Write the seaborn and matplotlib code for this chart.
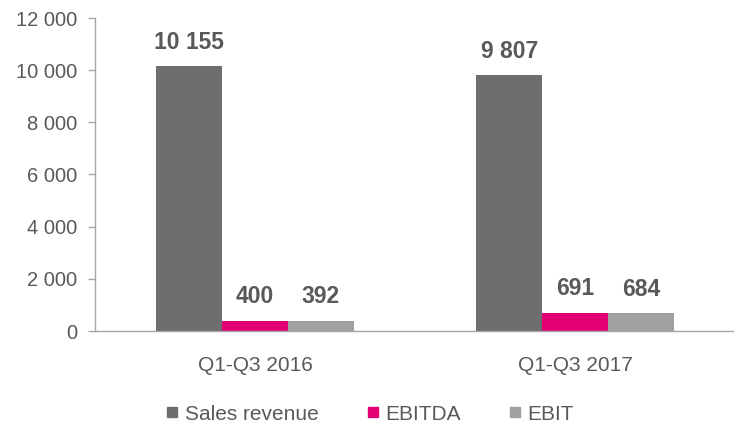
import matplotlib
matplotlib.use("Agg")
import matplotlib.pyplot as plt
from matplotlib.ticker import FuncFormatter, MultipleLocator
from matplotlib.lines import Line2D
import seaborn as sns
import pandas as pd

periods = ["Q1-Q3 2016", "Q1-Q3 2017"]
metrics = ["Sales revenue", "EBITDA", "EBIT"]
sales_revenue = [10155, 9807]
ebitda = [400, 691]
ebit = [392, 684]

colors = ["#6d6e70", "#e20074", "#a0a0a0"]
text_grey = "#595959"
axis_grey = "#a6a6a6"

df = pd.DataFrame({
    "period": periods * 3,
    "metric": [m for m in metrics for _ in periods],
    "value": sales_revenue + ebitda + ebit,
})

sns.set_theme(style="white")
plt.rcParams["font.family"] = ["Liberation Sans", "DejaVu Sans"]

fig = plt.figure(figsize=(7.34, 4.23), dpi=100)
ax = fig.add_axes([95 / 734, 1 - 331 / 423, 640 / 734, 313 / 423])

sns.barplot(data=df, x="period", y="value", hue="metric", order=periods,
            hue_order=metrics, palette=colors, width=0.617, saturation=1,
            legend=False, ax=ax)

for cont in ax.containers:
    for bar in cont:
        bar.set_edgecolor("none")
        v = bar.get_height()
        ax.annotate(f"{v:,.0f}".replace(",", " "),
                    (bar.get_x() + bar.get_width() / 2, v),
                    xytext=(0, 9), textcoords="offset points",
                    ha="center", va="bottom", fontsize=16.5,
                    fontweight="bold", color=text_grey)

ax.set_ylim(0, 12000)
ax.set_xlim(-0.5, 1.5)
ax.yaxis.set_major_locator(MultipleLocator(2000))
ax.yaxis.set_major_formatter(FuncFormatter(lambda v, p: f"{v:,.0f}".replace(",", " ")))
ax.set_xlabel("")
ax.set_ylabel("")

for s in ["top", "right"]:
    ax.spines[s].set_visible(False)
for s in ["left", "bottom"]:
    ax.spines[s].set_color(axis_grey)
    ax.spines[s].set_linewidth(1.0)

ax.tick_params(axis="y", which="major", left=True, length=5, width=1,
               color=axis_grey, labelsize=14.5, labelcolor=text_grey, pad=8)
ax.tick_params(axis="x", which="major", bottom=False, labelsize=15,
               labelcolor=text_grey, pad=12)

handles = [Line2D([0], [0], marker="s", linestyle="none", markersize=7.5,
                  markerfacecolor=c, markeredgecolor=c) for c in colors]
fig.legend(handles, metrics, loc="center", bbox_to_anchor=(370 / 734, 1 - 414 / 423),
           ncol=3, frameon=False, fontsize=15, labelcolor=text_grey,
           handlelength=0.6, handletextpad=0.3, columnspacing=2.3)

fig.savefig("out.png", dpi=100)
